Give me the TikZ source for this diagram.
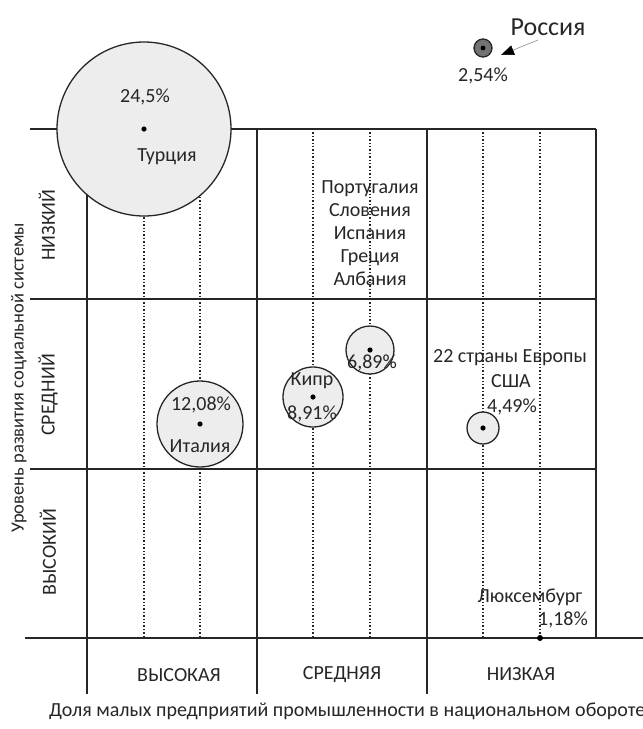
\documentclass[tikz,border=0pt]{standalone}
\usepackage{fontspec}
\setmainfont{Carlito}
\usetikzlibrary{arrows.meta}
\begin{document}
\begin{tikzpicture}[x=1pt,y=-1pt,
  gridline/.style={line width=1.8pt, draw=black!85},
  dotline/.style={dotted, line width=1.4pt, draw=black!85},
  bubble/.style={circle, draw=black!85, line width=1.3pt, fill=black!7, inner sep=0pt},
  lbl/.style={font=\fontsize{20}{23}\selectfont, text=black!85, inner sep=0pt},
  cdot/.style={fill=black}]
\useasboundingbox (0,0) rectangle (643,729);
% grid
\draw[gridline] (30,129) -- (596,129);
\draw[gridline] (30,299) -- (596,299);
\draw[gridline] (30,469) -- (596,469);
\draw[gridline] (25,638) -- (643,638);
\foreach \x in {87,257,427} \draw[gridline] (\x,129) -- (\x,694);
\draw[gridline] (596,129) -- (596,638);
\foreach \x in {144,200,313,370,483,540} \draw[dotline] (\x,129) -- (\x,638);
% Turkey
\node[bubble, minimum size=174pt] (tur) at (144,129) {};
\fill[cdot] (tur.center) circle (2.6);
\node[lbl] (turp) at (145,97) {24,5\%};
\node[lbl] (turn) at (167,157) {Турция};
% Russia
\node[circle, draw=black!85, line width=1.3pt, fill=black!55, minimum size=18pt, inner sep=0pt] (rus) at (483,48) {};
\fill[cdot] (rus.center) circle (2.4);
\node[lbl, font=\fontsize{26}{30}\selectfont] (rusn) at (548,27) {Россия};
\node[lbl] (rusp) at (483,76) {2,54\%};
\coordinate (ra) at (538,40);
\coordinate (rb) at (501,55);
\draw[draw=black!45, line width=0.6pt, -{Triangle[length=13pt,width=10pt,color=black]}] (ra) -- (rb);
% South Europe list
\node[lbl, align=center] (south) at (370,233) {Португалия\\Словения\\Испания\\Греция\\Албания};
% Italy
\node[bubble, minimum size=86pt] (ita) at (200,424) {};
\fill[cdot] (ita.center) circle (2.6);
\node[lbl] (itap) at (201,405) {12,08\%};
\node[lbl] (itan) at (200,446) {Италия};
% Cyprus
\node[bubble, minimum size=60pt] (cyp) at (313,397) {};
\fill[cdot] (cyp.center) circle (2.6);
\node[lbl] (cypn) at (312,381) {Кипр};
\node[lbl] (cypp) at (312,414) {8,91\%};
% 6,89
\node[bubble, minimum size=48pt] (six) at (370,350) {};
\fill[cdot] (six.center) circle (2.6);
\node[lbl] (sixp) at (372,363) {6,89\%};
% USA
\node[bubble, minimum size=32pt] (usa) at (483,428) {};
\fill[cdot] (usa.center) circle (2.6);
\node[lbl] (eur) at (510,358) {22 страны Европы};
\node[lbl] (usan) at (511,381) {США};
\node[lbl] (usap) at (512,407) {4,49\%};
% Luxembourg
\node[circle, fill=black, minimum size=6pt, inner sep=0pt] (lux) at (540,638) {};
\node[lbl] (luxn) at (530,597) {Люксембург};
\node[lbl] (luxp) at (563,620) {1,18\%};
% axis labels
\node[lbl, rotate=90] (low) at (47,225) {НИЗКИЙ};
\node[lbl, rotate=90] (mid) at (48,395) {СРЕДНИЙ};
\node[lbl, rotate=90] (high) at (48,552) {ВЫСОКИЙ};
\node[lbl, rotate=90, font=\fontsize{18.5}{22}\selectfont] (yax) at (19,378) {Уровень развития социальной системы};
\node[lbl] (bhigh) at (179,675) {ВЫСОКАЯ};
\node[lbl] (bmid) at (342,675) {СРЕДНЯЯ};
\node[lbl] (blow) at (521,674) {НИЗКАЯ};
\node[lbl, anchor=west] (xax) at (49,711) {Доля малых предприятий промышленности в национальном обороте};
\end{tikzpicture}
\end{document}
